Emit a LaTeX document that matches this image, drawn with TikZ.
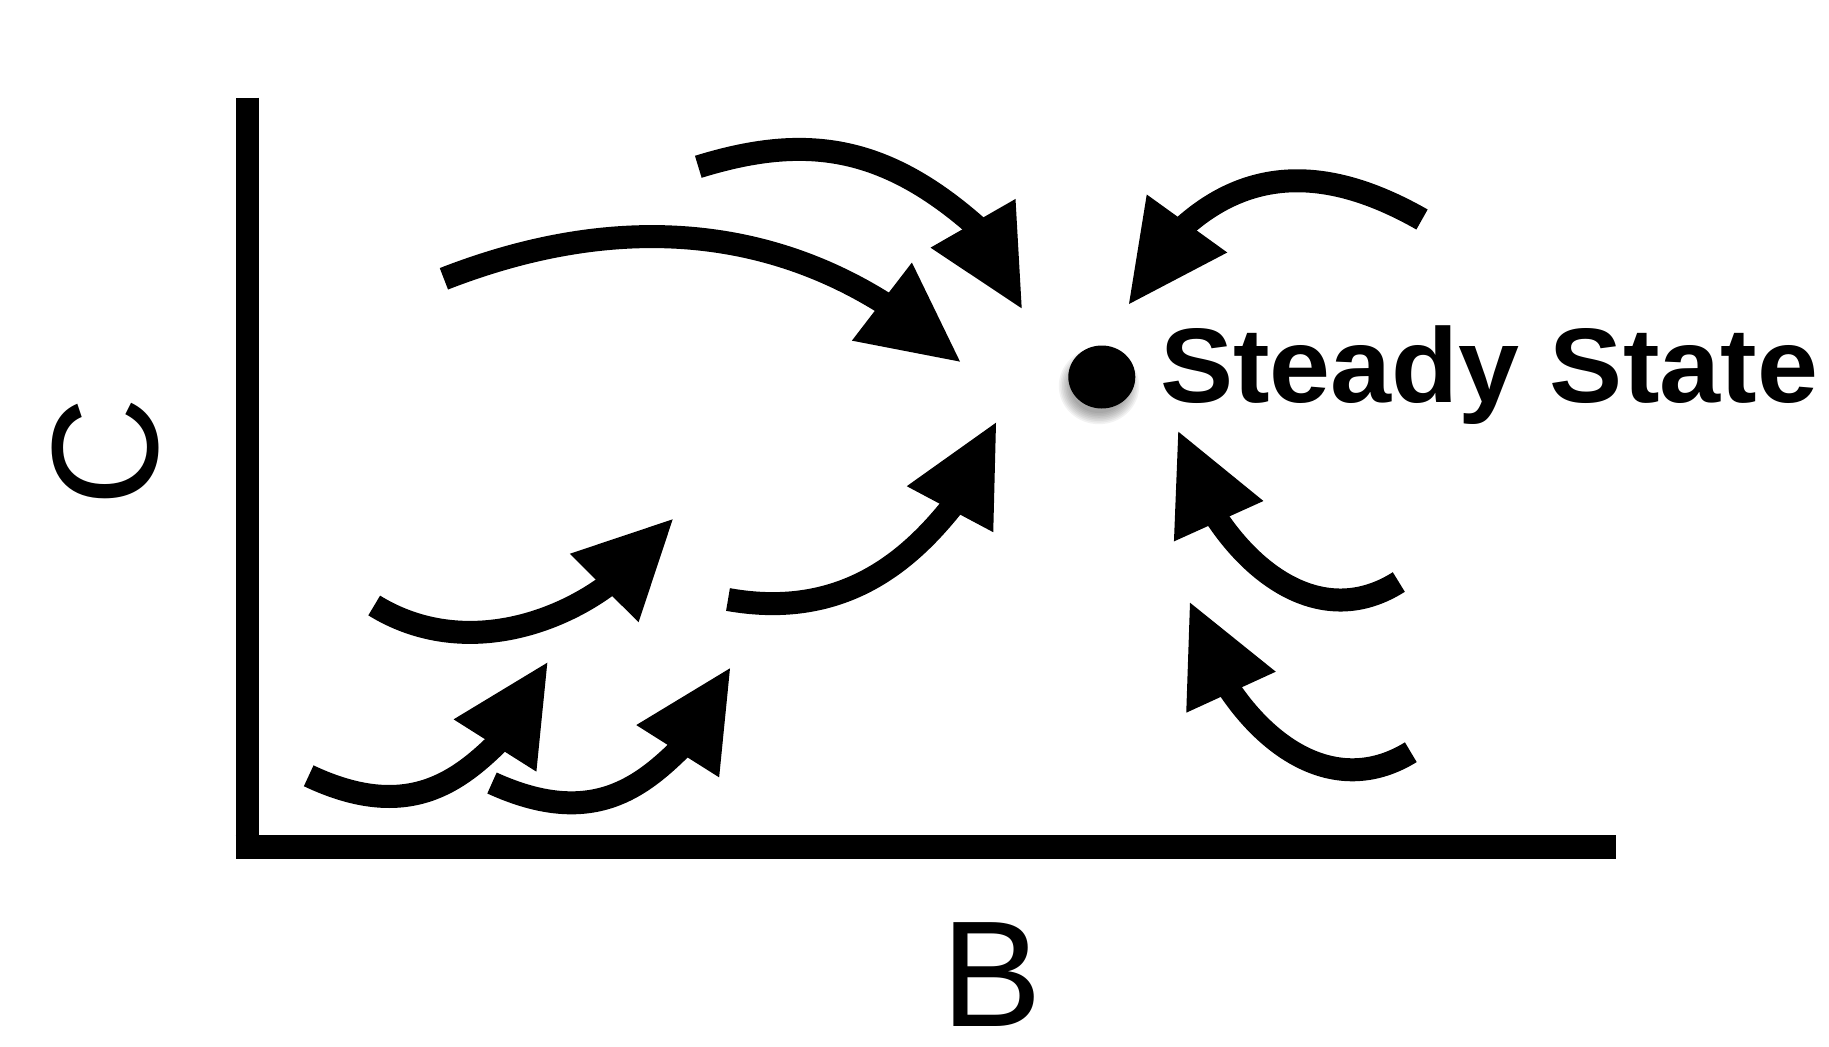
\documentclass[tikz,border=0pt]{standalone}
\usepackage{fontspec}
\usepackage{graphicx}
\setmainfont{Liberation Sans}
\usetikzlibrary{calc,shapes.geometric}
% #1 name, #2 tail, #3 control 1, #4 control 2, #5 stem end, #6 head base middle, #7 head tip
\newcommand\flowarr[7]{%
  \coordinate (#1-tail) at (#2);
  \coordinate (#1-end) at (#5);
  \coordinate (#1-base) at (#6);
  \coordinate (#1-tip) at (#7);
  \draw[stem] (#1-tail) .. controls (#3) and (#4) .. (#1-end);
  \fill[head] ($(#1-base)!0.5!90:(#1-tip)$) -- (#1-tip) -- ($(#1-base)!0.5!-90:(#1-tip)$) -- cycle;
}
\begin{document}
\begin{tikzpicture}[x=1pt,y=-1pt,
  stem/.style={line width=23pt, line cap=butt, draw=black},
  head/.style={fill=black},
  axisline/.style={line width=23.6pt, draw=black, line cap=butt},
  axislabel/.style={inner sep=0pt, font=\fontsize{151}{151}\selectfont},
  ssdot/.style={ellipse, fill=black, inner sep=0pt, minimum width=67pt, minimum height=63pt},
  sslabel/.style={inner sep=0pt, anchor=base west, font=\bfseries\fontsize{106}{106}\selectfont}]
\useasboundingbox (0,0) rectangle (1829,1047);
% axes
\coordinate (ytop) at (247.5,97.7);
\coordinate (ybot) at (247.5,847);
\coordinate (xstart) at (235.7,847);
\coordinate (xend) at (1615.7,847);
\draw[axisline] (ytop) -- (ybot);
\draw[axisline] (xstart) -- (xend);
\node[axislabel, anchor=base] (blabel) at (991.5,1026.5) {B};
\node[axislabel, anchor=base, rotate=90] (clabel) at (157,452) {C};
% steady state dot with soft shadow
\foreach \i in {0,...,7}{
  \fill[black, opacity=0.05] (1099,386) ellipse ({29+\i*1.6} and {27+\i*1.6});
}
\node[ssdot] (ss) at (1101.8,377) {};
\node[sslabel] (sstext) at (1160,402) {\scalebox{1.034}[1]{Steady State}};
% arrows
\flowarr{a1}{698.3,166.8}{803.5,134.3}{883.8,143}{980.4,230}{973,223.3}{1021.7,308.3}
\flowarr{a2}{443.9,278.8}{658.5,195.1}{806.4,252.6}{890.3,307.1}{881.9,301.6}{960,361.6}
\flowarr{a3}{1422,219.5}{1335.1,170}{1252.9,162.1}{1179.7,230.3}{1187,223.5}{1129,304}
\flowarr{a4}{374.2,605.5}{459.4,657.9}{556.9,624.9}{612.1,581.8}{604.2,588}{672.7,519.3}
\flowarr{a5}{728,599.5}{846.1,620.6}{913.1,556.5}{956.2,501.3}{950,509.2}{996,422.7}
\flowarr{a6}{308.7,775.8}{408.1,822.8}{459.7,780.8}{502.1,738.4}{495,745.5}{547.3,662.7}
\flowarr{a7}{492,783}{592.2,828.8}{642.4,786.5}{684.8,744.1}{677.7,751.2}{730,668.3}
\flowarr{a8}{1398.8,582}{1327.1,627.5}{1256.3,580.3}{1213.3,512.8}{1218.7,521.2}{1178.3,431.7}
\flowarr{a9}{1410.8,752.2}{1338.5,796.7}{1268.3,750.5}{1225.3,683}{1231,692.2}{1190,602.7}
\end{tikzpicture}
\end{document}
